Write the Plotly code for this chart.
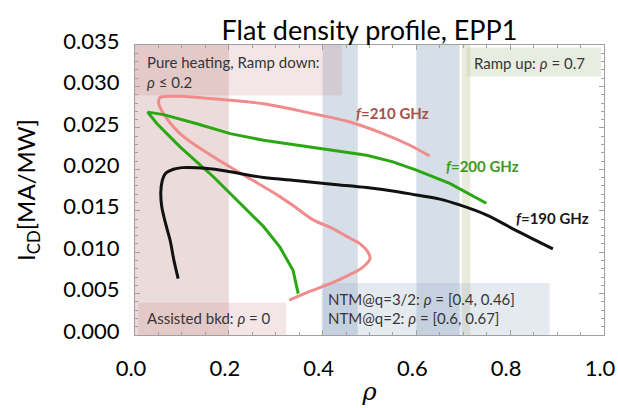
import plotly.graph_objects as go

# ---- data ----
rho_190 = [0.092, 0.083, 0.075, 0.065, 0.057, 0.055, 0.058, 0.065, 0.082, 0.10, 0.132, 0.17, 0.203,
           0.274, 0.352, 0.42, 0.494, 0.56, 0.60, 0.65, 0.692, 0.749, 0.813, 0.891]
icd_190 = [0.0068, 0.0090, 0.0114, 0.0135, 0.0155, 0.0172, 0.0186, 0.0195, 0.0200, 0.0202, 0.0202, 0.0200, 0.0197,
           0.0190, 0.0186, 0.0182, 0.0178, 0.0173, 0.0169, 0.0164, 0.0157, 0.0145, 0.0126, 0.0104]

rho_200 = [0.348, 0.337, 0.309, 0.274, 0.224, 0.167, 0.096, 0.047, 0.027, 0.061, 0.132, 0.203,
           0.274, 0.36, 0.43, 0.494, 0.55, 0.600, 0.671, 0.749]
icd_200 = [0.0050, 0.0078, 0.0106, 0.0131, 0.0159, 0.0191, 0.0227, 0.0255, 0.0269, 0.0266, 0.0255, 0.0243,
           0.0235, 0.0228, 0.0222, 0.0217, 0.0209, 0.0199, 0.0183, 0.0159]

rho_210 = [0.329, 0.37, 0.416, 0.455, 0.486, 0.501, 0.497, 0.480, 0.451, 0.420, 0.380, 0.345, 0.309,
           0.238, 0.167, 0.096, 0.061, 0.050, 0.054, 0.07, 0.096, 0.167, 0.274, 0.380, 0.458, 0.529, 0.586, 0.628]
icd_210 = [0.0042, 0.0052, 0.0062, 0.0072, 0.0082, 0.0092, 0.0100, 0.0110, 0.0119, 0.0129, 0.0139, 0.0153, 0.0167,
           0.0191, 0.0215, 0.0243, 0.0267, 0.0281, 0.0287, 0.0288, 0.0288, 0.0285, 0.0279, 0.0267, 0.0257, 0.0243, 0.0229, 0.0216]

# shaded rho bands
band_heating = [0.0, 0.2]
band_ntm32 = [0.40, 0.475]
band_ntm2 = [0.60, 0.692]
band_rampup = [0.697, 0.715]

x_ticks = [0.0, 0.2, 0.4, 0.6, 0.8, 1.0]
y_ticks = [0.000, 0.005, 0.010, 0.015, 0.020, 0.025, 0.030, 0.035]

FONT = "Lato, 'Open Sans', sans-serif"

W, H = 618, 408

fig = go.Figure()
fig.add_trace(go.Scatter(x=rho_210, y=icd_210, mode="lines", name="f=210 GHz",
                         line=dict(color="#f08c8c", width=3), line_shape="spline"))
fig.add_trace(go.Scatter(x=rho_200, y=icd_200, mode="lines", name="f=200 GHz",
                         line=dict(color="#2aa814", width=3)))
fig.add_trace(go.Scatter(x=rho_190, y=icd_190, mode="lines", name="f=190 GHz",
                         line=dict(color="#111111", width=3), line_shape="spline"))

shapes = []
def band(x0, x1, y0, y1, color):
    shapes.append(dict(type="rect", xref="x", yref="y", x0=x0, x1=x1, y0=y0, y1=y1,
                       fillcolor=color, line=dict(width=0), layer="below"))

band(band_heating[0], band_heating[1], 0, 0.035, "rgba(180,110,110,0.25)")
band(band_ntm32[0], band_ntm32[1], 0, 0.035, "rgba(120,145,180,0.30)")
band(band_ntm2[0], band_ntm2[1], 0, 0.035, "rgba(120,145,180,0.30)")
band(band_rampup[0], band_rampup[1], 0, 0.035, "rgba(190,190,140,0.30)")
# label boxes
band(0.0, 0.441, 0.0289, 0.035, "rgba(200,130,130,0.20)")
band(0.007, 0.322, 0.0, 0.0039, "rgba(200,130,130,0.20)")
band(0.398, 0.884, 0.0, 0.00627, "rgba(150,170,200,0.25)")
band(0.707, 0.994, 0.0312, 0.0347, "rgba(180,195,160,0.30)")

TXT = "#363636"
def note(x, y, text, color=TXT, size=15):
    return dict(x=x, y=y, xref="x", yref="y", text=text, showarrow=False,
                xanchor="left", yanchor="middle", font=dict(family=FONT, size=size, color=color))

annotations = [
    note(0.022, 0.0329, "Pure heating, Ramp down:"),
    note(0.022, 0.0305, "<i>ρ</i> ≤ 0.2"),
    note(0.718, 0.0328, "Ramp up: <i>ρ</i> = 0.7"),
    note(0.468, 0.0268, "<b><i>f</i>=210 GHz</b>", color="#a5504c", size=15),
    note(0.659, 0.0204, "<b><i>f</i>=200 GHz</b>", color="#3c9a1e", size=15),
    note(0.808, 0.0141, "<b><i>f</i>=190 GHz</b>", color="#1a1a1a", size=15),
    note(0.022, 0.0020, "Assisted bkd: <i>ρ</i> = 0"),
    note(0.407, 0.00434, "NTM@q=3/2: <i>ρ</i> = [0.4, 0.46]"),
    note(0.407, 0.0020, "NTM@q=2: <i>ρ</i> = [0.6, 0.67]"),
]

axis_common = dict(showline=True, linecolor="#a0a0a0", linewidth=1, mirror="allticks",
                   ticks="inside", ticklen=5, tickcolor="#a0a0a0", showgrid=False, zeroline=False,
                   automargin=False, ticklabeloverflow="allow",
                   tickfont=dict(family=FONT, size=22, color="#000000"))

fig.update_layout(
    width=W, height=H,
    margin=dict(l=135, r=14, t=45, b=73),
    paper_bgcolor="white", plot_bgcolor="white",
    showlegend=False,
    title=dict(text="Flat density profile, EPP1", x=0.5, xref="paper", y=1 - 21 / H, yref="container",
               xanchor="center", yanchor="top", font=dict(family=FONT, size=27, color="#000000")),
    xaxis=dict(range=[0, 1], tickvals=x_ticks, tickformat=".1f", ticklabelstandoff=14, ticklabelshift=-4,
               minor=dict(dtick=0.05, ticks="inside", ticklen=3, tickcolor="#a0a0a0"),
               title=dict(text="<i>ρ</i>", standoff=2, font=dict(family="DejaVu Serif", size=24, color="#000")),
               **axis_common),
    yaxis=dict(range=[0, 0.035], tickvals=y_ticks, tickformat=".3f", ticklabelstandoff=10, ticklabelshift=-4,
               minor=dict(dtick=0.001, ticks="inside", ticklen=3, tickcolor="#a0a0a0"),
               title=dict(text="I<sub>CD</sub>[MA/MW]", standoff=20, font=dict(family=FONT, size=24, color="#000")),
               **axis_common),
    shapes=shapes,
    annotations=annotations,
)

# remove the default 8px page margin so the 618x408 figure fills the window exactly
fig.write_html("out.html", config={"displayModeBar": False},
               post_script="document.body.style.margin='0';document.body.style.overflow='hidden';")
